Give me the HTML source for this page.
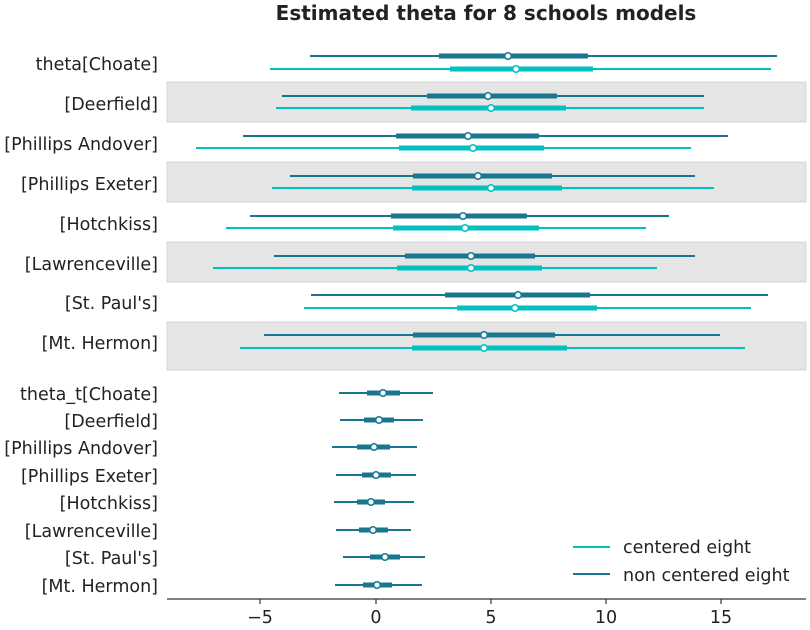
<!DOCTYPE html>
<html><head><meta charset="utf-8"><style>body{margin:0;background:#fff}svg{display:block}text{font-family:"DejaVu Sans","Liberation Sans",sans-serif;fill:#222}</style></head><body>
<svg width="810" height="630" xmlns="http://www.w3.org/2000/svg">
<g fill="#e5e5e5" stroke="#d6d6d6" stroke-width="1">
<rect x="167" y="82" width="639" height="40"/>
<rect x="167" y="162" width="639" height="40"/>
<rect x="167" y="242" width="639" height="40"/>
<rect x="167" y="322" width="639" height="48"/>
</g>
<text x="486" y="20" text-anchor="middle" font-size="20" font-weight="bold">Estimated theta for 8 schools models</text>
<g font-size="17.5" text-anchor="end">
<text x="158" y="70">theta[Choate]</text>
<text x="158" y="110">[Deerfield]</text>
<text x="158" y="150">[Phillips Andover]</text>
<text x="158" y="190">[Phillips Exeter]</text>
<text x="158" y="230">[Hotchkiss]</text>
<text x="158" y="270">[Lawrenceville]</text>
<text x="158" y="309">[St. Paul's]</text>
<text x="158" y="349">[Mt. Hermon]</text>
<text x="158" y="400">theta_t[Choate]</text>
<text x="158" y="427">[Deerfield]</text>
<text x="158" y="454">[Phillips Andover]</text>
<text x="158" y="482">[Phillips Exeter]</text>
<text x="158" y="509">[Hotchkiss]</text>
<text x="158" y="537">[Lawrenceville]</text>
<text x="158" y="564">[St. Paul's]</text>
<text x="158" y="592">[Mt. Hermon]</text>
</g>
<g stroke="#18778f" stroke-width="2">
<line x1="310" x2="777" y1="56" y2="56"/><line x1="282" x2="704" y1="96" y2="96"/><line x1="243" x2="728" y1="136" y2="136"/><line x1="290" x2="695" y1="176" y2="176"/><line x1="250" x2="669" y1="216" y2="216"/><line x1="274" x2="695" y1="256" y2="256"/><line x1="311" x2="768" y1="295" y2="295"/><line x1="264" x2="720" y1="335" y2="335"/>
<line x1="339" x2="433" y1="393" y2="393"/><line x1="340" x2="423" y1="420" y2="420"/><line x1="332" x2="417" y1="447" y2="447"/><line x1="336" x2="416" y1="475" y2="475"/><line x1="334" x2="414" y1="502" y2="502"/><line x1="336" x2="411" y1="530" y2="530"/><line x1="343" x2="425" y1="557" y2="557"/><line x1="335" x2="422" y1="585" y2="585"/>
</g>
<g stroke="#18778f" stroke-width="5">
<line x1="439" x2="588" y1="56" y2="56"/><line x1="427" x2="557" y1="96" y2="96"/><line x1="396" x2="539" y1="136" y2="136"/><line x1="413" x2="552" y1="176" y2="176"/><line x1="391" x2="527" y1="216" y2="216"/><line x1="405" x2="535" y1="256" y2="256"/><line x1="445" x2="590" y1="295" y2="295"/><line x1="413" x2="555" y1="335" y2="335"/>
<line x1="367" x2="400" y1="393" y2="393"/><line x1="364" x2="394" y1="420" y2="420"/><line x1="357" x2="390" y1="447" y2="447"/><line x1="362" x2="391" y1="475" y2="475"/><line x1="357" x2="385" y1="502" y2="502"/><line x1="359" x2="388" y1="530" y2="530"/><line x1="370" x2="400" y1="557" y2="557"/><line x1="363" x2="392" y1="585" y2="585"/>
</g>
<g stroke="#00c1c1" stroke-width="2">
<line x1="270" x2="771" y1="69" y2="69"/><line x1="276" x2="704" y1="108" y2="108"/><line x1="196" x2="691" y1="148" y2="148"/><line x1="272" x2="714" y1="188" y2="188"/><line x1="226" x2="646" y1="228" y2="228"/><line x1="213" x2="657" y1="268" y2="268"/><line x1="304" x2="751" y1="308" y2="308"/><line x1="240" x2="745" y1="348" y2="348"/>
</g>
<g stroke="#00c1c1" stroke-width="5">
<line x1="450" x2="593" y1="69" y2="69"/><line x1="411" x2="566" y1="108" y2="108"/><line x1="399" x2="544" y1="148" y2="148"/><line x1="412" x2="562" y1="188" y2="188"/><line x1="393" x2="539" y1="228" y2="228"/><line x1="397" x2="542" y1="268" y2="268"/><line x1="457" x2="597" y1="308" y2="308"/><line x1="412" x2="567" y1="348" y2="348"/>
</g>
<g fill="#fff" stroke="#18778f" stroke-width="1.5">
<circle cx="508" cy="56" r="3.3"/><circle cx="488" cy="96" r="3.3"/><circle cx="468" cy="136" r="3.3"/><circle cx="478" cy="176" r="3.3"/><circle cx="463" cy="216" r="3.3"/><circle cx="471" cy="256" r="3.3"/><circle cx="518" cy="295" r="3.3"/><circle cx="484" cy="335" r="3.3"/>
<circle cx="383" cy="393" r="3.3"/><circle cx="379" cy="420" r="3.3"/><circle cx="374" cy="447" r="3.3"/><circle cx="376" cy="475" r="3.3"/><circle cx="371" cy="502" r="3.3"/><circle cx="373" cy="530" r="3.3"/><circle cx="385" cy="557" r="3.3"/><circle cx="377" cy="585" r="3.3"/>
</g>
<g fill="#fff" stroke="#00c1c1" stroke-width="1.5">
<circle cx="516" cy="69" r="3.3"/><circle cx="491" cy="108" r="3.3"/><circle cx="473" cy="148" r="3.3"/><circle cx="491" cy="188" r="3.3"/><circle cx="465" cy="228" r="3.3"/><circle cx="471" cy="268" r="3.3"/><circle cx="515" cy="308" r="3.3"/><circle cx="484" cy="348" r="3.3"/>
</g>
<line x1="167" x2="806" y1="599" y2="599" stroke="#333" stroke-width="1.2"/>
<g stroke="#333" stroke-width="1.2">
<line x1="260" x2="260" y1="599" y2="604"/><line x1="376" x2="376" y1="599" y2="604"/><line x1="491" x2="491" y1="599" y2="604"/><line x1="606" x2="606" y1="599" y2="604"/><line x1="721" x2="721" y1="599" y2="604"/>
</g>
<g font-size="17.5" text-anchor="middle">
<text x="260" y="623">−5</text><text x="376" y="623">0</text><text x="491" y="623">5</text><text x="606" y="623">10</text><text x="721" y="623">15</text>
</g>
<line x1="573" x2="610" y1="547" y2="547" stroke="#00c1c1" stroke-width="2"/>
<line x1="573" x2="610" y1="574" y2="574" stroke="#18778f" stroke-width="2"/>
<g font-size="17.5"><text x="623" y="553">centered eight</text><text x="623" y="581">non centered eight</text></g>
</svg>
</body></html>
